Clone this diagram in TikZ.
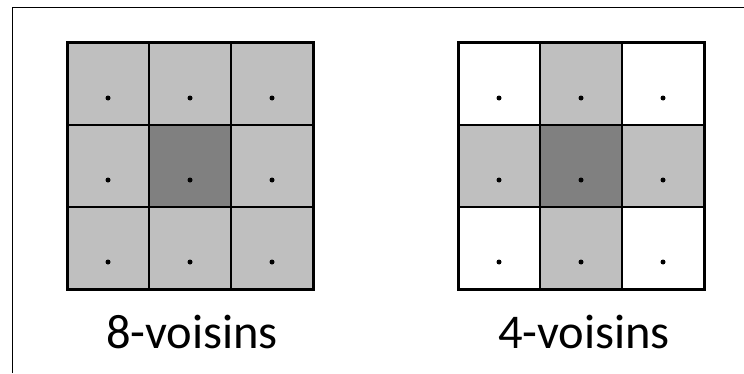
\documentclass[tikz,border=0pt]{standalone}
\usepackage{fontspec}
\setmainfont{Carlito}
\usetikzlibrary{positioning,fit}

\begin{document}
\begin{tikzpicture}[
    x=1pt, y=1pt,
    cell/.style={draw, line width=2.2pt, minimum size=82pt, inner sep=0pt,
                 outer sep=0pt},
    nbcell/.style={cell, fill=black!25},
    midcell/.style={cell, fill=black!50},
    freecell/.style={cell, fill=white},
    gridframe/.style={draw, line width=3pt, inner sep=0pt},
    pixdot/.style={circle, fill=black, inner sep=0pt, minimum size=5pt},
    lbl/.style={font=\fontsize{48.5}{52}\selectfont, anchor=base, inner sep=0pt},
  ]
    \useasboundingbox (0,0) rectangle (744,373);

    % page frame
    \draw[line width=1pt] (12,0) |- (744,365);

    % (a) 8-voisins
    \node[nbcell]  (e11) at (108,289) {};
    \node[nbcell]  (e12) at (190,289) {};
    \node[nbcell]  (e13) at (272,289) {};
    \node[nbcell]  (e21) at (108,207) {};
    \node[midcell] (e22) at (190,207) {};
    \node[nbcell]  (e23) at (272,207) {};
    \node[nbcell]  (e31) at (108,125) {};
    \node[nbcell]  (e32) at (190,125) {};
    \node[nbcell]  (e33) at (272,125) {};
    \node[gridframe, fit=(e11)(e33)] (gride) {};
    \foreach \r in {1,2,3}
      \foreach \c in {1,2,3}
        \node[pixdot] at ([yshift=-14pt]e\r\c.center) {};
    \node[lbl] (lble) at (192,25) {8-voisins};

    % (b) 4-voisins
    \node[freecell] (q11) at (499,289) {};
    \node[nbcell]   (q12) at (581,289) {};
    \node[freecell] (q13) at (663,289) {};
    \node[nbcell]   (q21) at (499,207) {};
    \node[midcell]  (q22) at (581,207) {};
    \node[nbcell]   (q23) at (663,207) {};
    \node[freecell] (q31) at (499,125) {};
    \node[nbcell]   (q32) at (581,125) {};
    \node[freecell] (q33) at (663,125) {};
    \node[gridframe, fit=(q11)(q33)] (gridq) {};
    \foreach \r in {1,2,3}
      \foreach \c in {1,2,3}
        \node[pixdot] at ([yshift=-14pt]q\r\c.center) {};
    \node[lbl] (lblq) at (584,25) {4-voisins};
\end{tikzpicture}
\end{document}
